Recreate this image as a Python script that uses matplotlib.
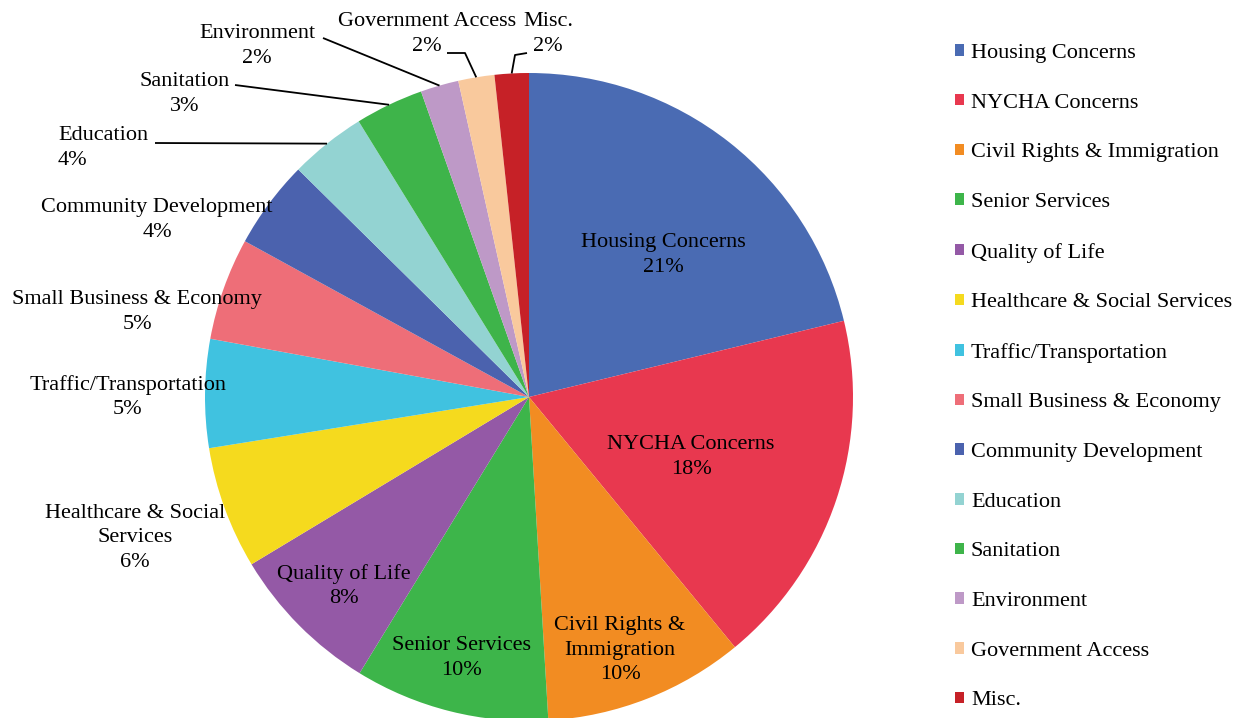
import matplotlib
matplotlib.use("Agg")
import matplotlib.pyplot as plt
import numpy as np

categories = ["Housing Concerns", "NYCHA Concerns", "Civil Rights & Immigration",
              "Senior Services", "Quality of Life", "Healthcare & Social Services",
              "Traffic/Transportation", "Small Business & Economy",
              "Community Development", "Education", "Sanitation", "Environment",
              "Government Access", "Misc."]
values = [21.2, 17.8, 10.0, 9.7, 7.6, 6.1, 5.4, 5.1, 4.4, 3.8, 3.4, 1.9, 1.8, 1.7]
pie_names = ["Housing Concerns", "NYCHA Concerns", "Civil Rights &\nImmigration",
             "Senior Services", "Quality of Life", "Healthcare & Social\nServices",
             "Traffic/Transportation", "Small Business & Economy",
             "Community Development", "Education", "Sanitation", "Environment",
             "Government Access", "Misc."]
colors = ["#4A6BB3", "#E8384F", "#F28C22", "#3DB54A", "#9459A6", "#F5DA1E",
          "#40C2E0", "#EE6E78", "#4B62AE", "#93D3D2", "#3EB44A", "#BE99C7",
          "#F9C99D", "#C62127"]

plt.rcParams['font.family'] = ['Liberation Serif', 'DejaVu Serif']
FS = 16
LS = 1.38

W, H = 1241, 718
fig = plt.figure(figsize=(W / 100, H / 100), dpi=100)
cx, cy, R = 529, 397, 324
ax = fig.add_axes([(cx - R) / W, (H - cy - R) / H, 2 * R / W, 2 * R / H])

wedges, _ = ax.pie(values, colors=colors, startangle=90, counterclock=False,
                   radius=1, wedgeprops=dict(linewidth=0))
ax.set_aspect('auto')
ax.set_xlim(-1, 1)
ax.set_ylim(-1, 1)
ax.axis('off')

total = sum(values)
pcts = [f"{round(v / total * 100)}%" for v in values]


def px(x, y):
    return (x - cx) / R, (cy - y) / R


# label positions in pixel coordinates (centre of text block)
label_pos = {
    0: (663, 255), 1: (691, 457), 2: (620, 650), 3: (461, 658), 4: (344, 586),
    5: (135, 538), 6: (128, 397), 7: (137, 312), 8: (157, 220),
    10: (185, 94), 11: (257, 46), 12: (427, 34), 13: (548, 34),
}
for i, (x, y) in label_pos.items():
    tx, ty = px(x, y)
    ax.text(tx, ty, pie_names[i] + "\n" + pcts[i], ha='center', va='center',
            fontsize=FS, clip_on=False, linespacing=LS)

# Education (left aligned)
tx, ty = px(58, 148)
ax.text(tx, ty, pie_names[9] + "\n" + pcts[9], ha='left', va='center',
        fontsize=FS, clip_on=False, linespacing=LS, multialignment='left')


def mid_edge(i):
    w = wedges[i]
    a = np.deg2rad((w.theta1 + w.theta2) / 2)
    return np.cos(a), np.sin(a)


leaders = {
    9: [(155, 143)],
    10: [(235, 85)],
    11: [(323, 38)],
    12: [(447, 53), (465, 53)],
    13: [(527, 53), (515, 55)],
}
for i, pts in leaders.items():
    xs = [px(*p)[0] for p in pts]
    ys = [px(*p)[1] for p in pts]
    ex, ey = mid_edge(i)
    xs.append(ex)
    ys.append(ey)
    ax.plot(xs, ys, color='black', lw=1.3, clip_on=False, solid_capstyle='butt')

leg = fig.legend(wedges, categories, loc='upper left',
                 bbox_to_anchor=(955 / W, 1 - 44 / H), bbox_transform=fig.transFigure,
                 frameon=False, fontsize=FS, handlelength=0.42, handleheight=0.42,
                 handletextpad=0.3, labelspacing=1.38, borderpad=0, borderaxespad=0)

fig.savefig("out.png", dpi=100, facecolor='white')
